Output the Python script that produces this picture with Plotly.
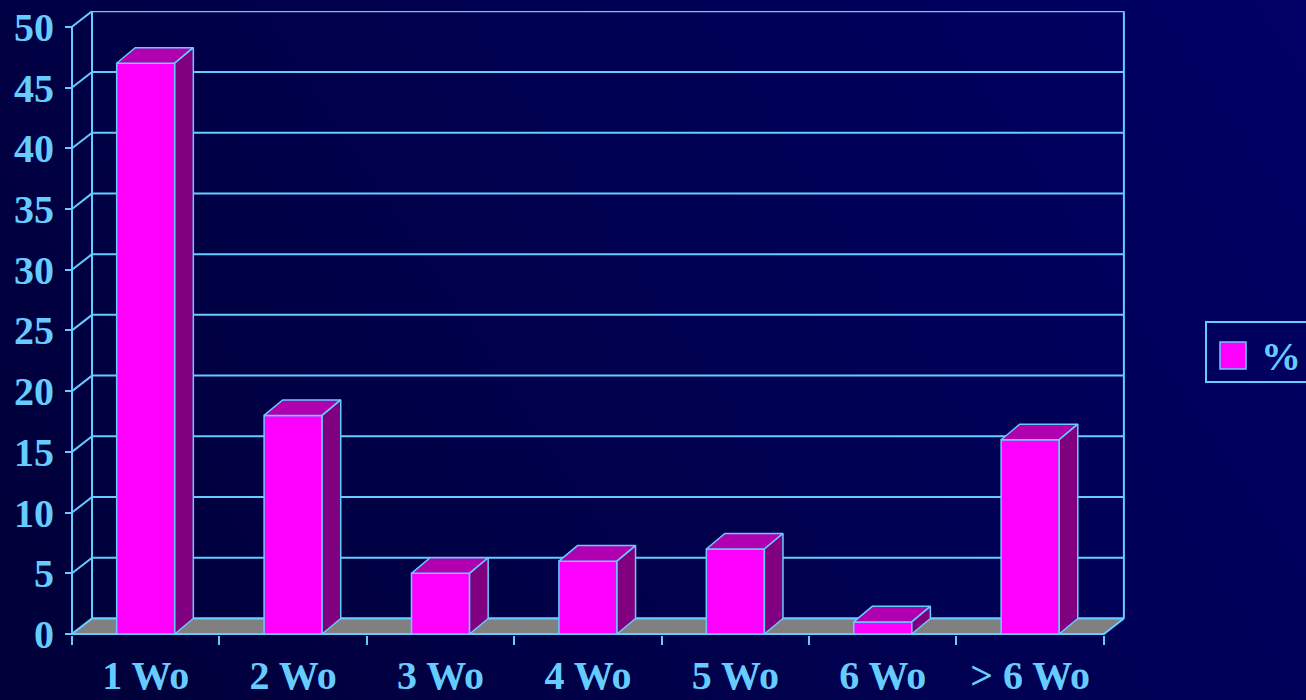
import base64
import plotly.graph_objects as go

# ---------------- data ----------------
categories = ["1 Wo", "2 Wo", "3 Wo", "4 Wo", "5 Wo", "6 Wo", "> 6 Wo"]
percent = [47, 18, 5, 6, 7, 1, 16]
y_ticks = [0, 5, 10, 15, 20, 25, 30, 35, 40, 45, 50]
series_name = "%"

# ---------------- style ----------------
BLUE = "#66CCFF"
FRONT = "#FF00FF"
TOP = "#B000B0"
SIDE = "#800080"
FLOOR = "#808080"
FONT = "Liberation Serif"

n = len(categories)
bar_w = 0.394          # category units
bar_dx, bar_dy = 0.126, 1.28   # bar depth offset (x units, y units)
wall_dx, wall_dy = 0.1357, 1.28  # wall depth offset
ymax_val = max(y_ticks)

fig = go.Figure()

# back wall + left wall lines
wx, wy = [], []
for v in y_ticks:
    wx += [0, wall_dx, None]
    wy += [v, v + wall_dy, None]
    wx += [wall_dx, n + wall_dx, None]
    wy += [v + wall_dy, v + wall_dy, None]
wx += [wall_dx, wall_dx, None, n + wall_dx, n + wall_dx, None]
wy += [wall_dy, ymax_val + wall_dy, None, wall_dy, ymax_val + wall_dy, None]
wx += [0, 0, None]
wy += [0, ymax_val, None]
fig.add_trace(go.Scatter(x=wx, y=wy, mode="lines", line=dict(color=BLUE, width=2),
                         hoverinfo="skip", showlegend=False))

# floor
fig.add_trace(go.Scatter(x=[0, n, n + wall_dx, wall_dx, 0], y=[0, 0, wall_dy, wall_dy, 0],
                         mode="lines", fill="toself", fillcolor=FLOOR,
                         line=dict(color=BLUE, width=2), hoverinfo="skip", showlegend=False))

# bars
for i, (c, v) in enumerate(zip(categories, percent)):
    x0 = i + 0.5 - bar_w / 2
    x1 = i + 0.5 + bar_w / 2
    faces = [
        ([x0, x1, x1, x0, x0], [0, 0, v, v, 0], FRONT),
        ([x0, x1, x1 + bar_dx, x0 + bar_dx, x0], [v, v, v + bar_dy, v + bar_dy, v], TOP),
        ([x1, x1 + bar_dx, x1 + bar_dx, x1, x1], [0, bar_dy, v + bar_dy, v, 0], SIDE),
    ]
    for fx, fy, col in faces:
        fig.add_trace(go.Scatter(x=fx, y=fy, mode="lines", fill="toself", fillcolor=col,
                                 line=dict(color=BLUE, width=1.5), name=c,
                                 hovertemplate=f"{c}: {v}%<extra></extra>", showlegend=False))

# ---------------- layout ----------------
W, H = 1306, 700
L, R, T, B = 69, 180, 11, 65
xmin, xmax = -0.0204, n + 0.15
ymin, ymax = -0.08, ymax_val + 1.3
pw, ph = W - L - R, H - T - B

def px_to_paper_x(px):
    return (px - L) / pw

def py_to_paper_y(py):
    return (H - B - py) / ph

svg = f'''<svg xmlns="http://www.w3.org/2000/svg" width="{W + 40}" height="{H + 40}" viewBox="-20 -20 {W + 40} {H + 40}">
<defs><linearGradient id="g" gradientUnits="userSpaceOnUse" x1="0" y1="700" x2="1232.6" y2="-111.6">
<stop offset="0" stop-color="#000038"/><stop offset="1" stop-color="#000066"/></linearGradient></defs>
<rect x="-20" y="-20" width="{W + 40}" height="{H + 40}" fill="url(#g)"/></svg>'''
src = "data:image/svg+xml;base64," + base64.b64encode(svg.encode()).decode()

fig.update_layout(
    width=W, height=H,
    margin=dict(l=L, r=R, t=T, b=B, pad=0, autoexpand=False),
    paper_bgcolor="#000050",
    plot_bgcolor="rgba(0,0,0,0)",
    showlegend=False,
    font=dict(family=FONT, color=BLUE, size=40, weight="bold"),
    images=[dict(source=src, xref="paper", yref="paper",
                 x=px_to_paper_x(-20), y=py_to_paper_y(-20),
                 sizex=(W + 40) / pw, sizey=(H + 40) / ph, sizing="stretch",
                 xanchor="left", yanchor="top", layer="below")],
    xaxis=dict(range=[xmin, xmax], showgrid=False, zeroline=False, showline=False,
               automargin=False,
               tickmode="array", tickvals=[i + 0.5 for i in range(n)], ticktext=categories,
               ticks="", ticklabelstandoff=13,
               tickfont=dict(family=FONT, size=40, color=BLUE, weight="bold"),
               minor=dict(tickmode="array", tickvals=list(range(n + 1)), ticks="outside",
                          ticklen=9, tickwidth=2, tickcolor=BLUE, showgrid=False),
               fixedrange=True),
    yaxis=dict(range=[ymin, ymax], showgrid=False, zeroline=False, showline=False,
               automargin=False,
               anchor="free", position=px_to_paper_x(72),
               tickmode="array", tickvals=y_ticks, ticks="outside", ticklen=7,
               tickwidth=2, tickcolor=BLUE, ticklabelstandoff=3,
               tickfont=dict(family=FONT, size=40, color=BLUE, weight="bold"),
               fixedrange=True),
)

# legend (drawn manually to match size)
fig.add_shape(type="rect", xref="paper", yref="paper",
              x0=px_to_paper_x(1206), x1=px_to_paper_x(1312),
              y0=py_to_paper_y(382), y1=py_to_paper_y(322),
              line=dict(color=BLUE, width=2), fillcolor="rgba(0,0,0,0)")
fig.add_shape(type="rect", xref="paper", yref="paper",
              x0=px_to_paper_x(1220), x1=px_to_paper_x(1246),
              y0=py_to_paper_y(369), y1=py_to_paper_y(342),
              line=dict(color=BLUE, width=1.5), fillcolor=FRONT)
fig.add_annotation(text=series_name, xref="paper", yref="paper",
                   x=px_to_paper_x(1259), y=py_to_paper_y(356),
                   xanchor="left", yanchor="middle", showarrow=False,
                   font=dict(family=FONT, size=40, color=BLUE, weight="bold"))

fig.write_html("out.html")
